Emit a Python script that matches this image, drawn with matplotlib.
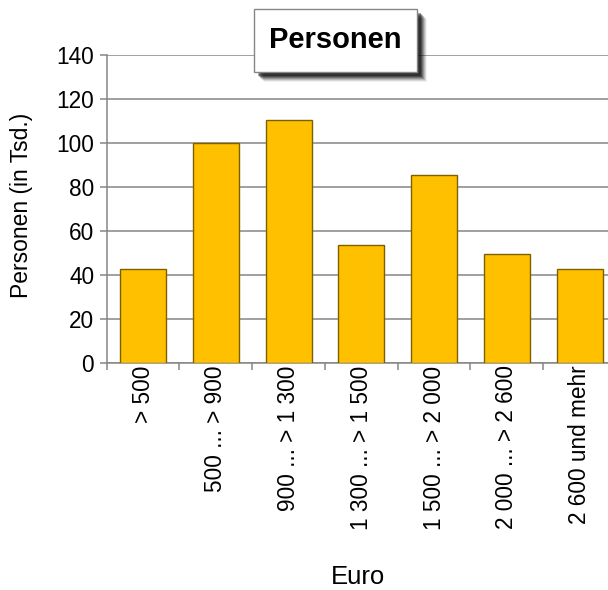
import matplotlib
matplotlib.use("Agg")
import matplotlib.pyplot as plt
from matplotlib.patches import Rectangle

plt.rcParams["font.family"] = ["Liberation Sans", "DejaVu Sans"]

categories = ["> 500", "500 ... > 900", "900 ... > 1 300", "1 300 ... > 1 500",
              "1 500 ... > 2 000", "2 000 ... > 2 600", "2 600 und mehr"]
personen = [42.6, 100.1, 110.4, 53.5, 85.3, 49.3, 42.8]
y_ticks = [0, 20, 40, 60, 80, 100, 120, 140]

W, H = 608, 590
fig = plt.figure(figsize=(W / 100, H / 100), dpi=100)

# plot area runs slightly past the right edge, like the original crop
ax = fig.add_axes([106.7 / W, 1 - 362.7 / H, (616 - 106.7) / W, (362.7 - 55) / H])

x = range(len(categories))
ax.bar(x, personen, width=0.63, color="#FFC000", edgecolor="#7F6000",
       linewidth=1.0, zorder=3)

ax.set_xlim(-0.5, len(categories) - 0.5)
ax.set_ylim(0, 140)
ax.set_yticks(y_ticks)
ax.yaxis.grid(True, color="#868686", linewidth=1.1, zorder=0)

# ticks between categories, labels under the bars
ax.set_xticks([i - 0.5 for i in range(len(categories) + 1)])
ax.set_xticklabels([])
ax.set_xticks(list(x), minor=True)
ax.set_xticklabels(categories, minor=True, rotation=90, fontsize=16.3)
ax.tick_params(axis="x", which="minor", length=0, pad=2)
ax.tick_params(axis="x", which="major", length=5, color="#868686", width=1.1)
ax.tick_params(axis="y", length=5, color="#868686", width=1.1, labelsize=16.3, pad=4)

for side in ["top", "right"]:
    ax.spines[side].set_visible(False)
for side in ["left", "bottom"]:
    ax.spines[side].set_color("#868686")
    ax.spines[side].set_linewidth(1.1)

fig.text(22 / W, 1 - 205 / H, "Personen (in Tsd.)", fontsize=16.5, rotation=90,
         ha="center", va="center")
fig.text(358 / W, 1 - 577 / H, "Euro", fontsize=18.5, ha="center", va="center")

# title box with soft shadow
bx0, by0, bx1, by1 = 254, 9, 417, 72
for k, a in [(10, 0.06), (9, 0.10), (8, 0.14), (7, 0.2), (6, 0.25), (5, 0.3), (4, 0.35)]:
    fig.patches.append(Rectangle(((bx0 + k) / W, 1 - (by1 + k) / H),
                                 (bx1 - bx0) / W, (by1 - by0) / H,
                                 transform=fig.transFigure, facecolor="black",
                                 edgecolor="none", alpha=a, zorder=5))
fig.patches.append(Rectangle((bx0 / W, 1 - by1 / H), (bx1 - bx0) / W, (by1 - by0) / H,
                             transform=fig.transFigure, facecolor="white",
                             edgecolor="#868686", linewidth=1.0, zorder=6))
fig.text((bx0 + bx1) / 2 / W, 1 - (by0 + by1) / 2 / H, "Personen", fontsize=21,
         fontweight="bold", ha="center", va="center", zorder=7)

fig.savefig("out.png", dpi=100)
